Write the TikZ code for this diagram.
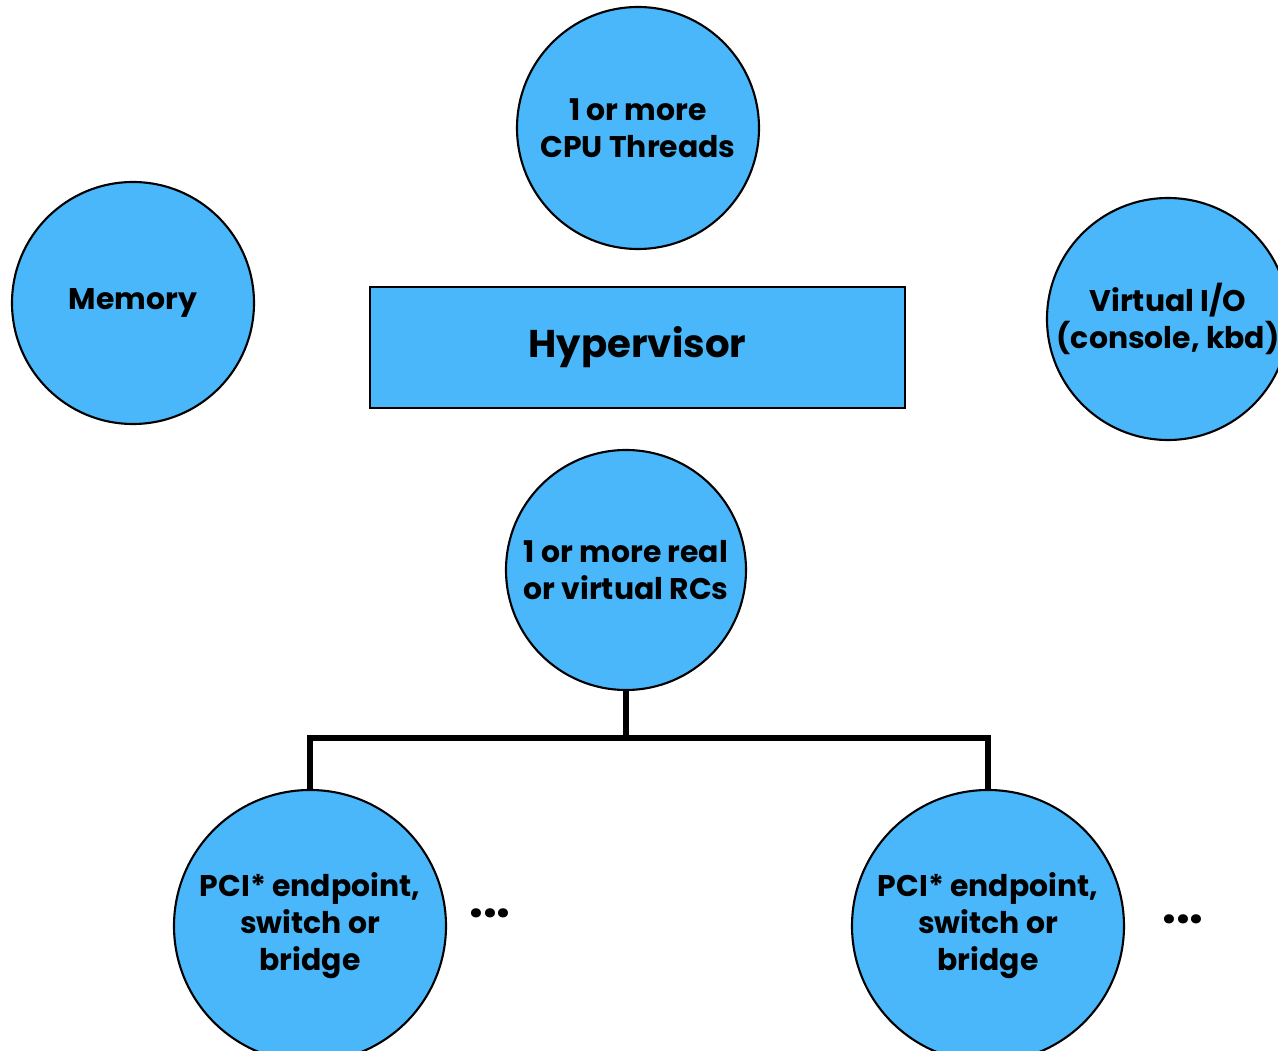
\documentclass[tikz,border=0pt]{standalone}
\usepackage{fontspec}
\setmainfont{Poppins}
\definecolor{bubble}{RGB}{74,183,250}

\begin{document}
\begin{tikzpicture}[
  unit/.style={circle, draw=black, line width=0.6pt, fill=bubble, minimum size=2.42cm, inner sep=0pt, align=center, font=\bfseries\fontsize{8.5}{10.5}\selectfont},
  wire/.style={line width=1.5pt}]
\useasboundingbox (0,0) rectangle (12.78,10.5);
\node[unit] (cpu) at (6.38,9.22) {1 or more\\CPU Threads};
\node[unit] (mem) at (1.33,7.47) {Memory};
\node[unit] (vio) at (11.68,7.31) {Virtual I/O\\(console, kbd)};
\node[draw=black, line width=0.6pt, fill=bubble, minimum width=5.35cm, minimum height=1.21cm, font=\bfseries\fontsize{11}{13}\selectfont] (hyp) at (6.375,7.025) {Hypervisor};
\node[unit, minimum size=2.4cm] (rc) at (6.26,4.80) {1 or more real\\or virtual RCs};
\node[unit, minimum size=2.72cm] (pcil) at (3.10,1.24) {PCI* endpoint,\\switch or\\bridge};
\node[unit, minimum size=2.72cm] (pcir) at (9.88,1.24) {PCI* endpoint,\\switch or\\bridge};
\node[font=\bfseries\fontsize{14}{16}\selectfont] (dotsl) at (4.90,1.37) {...};
\node[font=\bfseries\fontsize{14}{16}\selectfont] (dotsr) at (11.83,1.31) {...};
\coordinate (bus) at (6.26,3.12);
\draw[wire] (rc.south) -- (bus);
\draw[wire] (pcil.north) |- (bus) -| (pcir.north);
\end{tikzpicture}
\end{document}
